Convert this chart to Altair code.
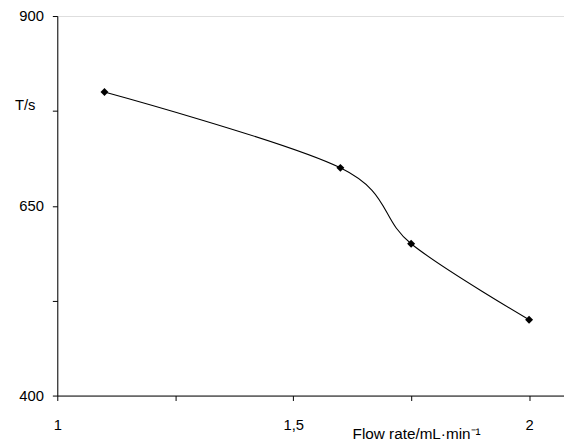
import altair as alt
import pandas as pd

flow = [1.1, 1.6, 1.75, 2.0]
t_values = [800, 700, 600, 500]
x_ticks = [1, 1.25, 1.5, 1.75, 2]
y_ticks = [400, 525, 650, 775, 900]

df = pd.DataFrame({"flow": flow, "t": t_values})

FONT = "Liberation Sans"

x_enc = alt.X(
    "flow:Q",
    scale=alt.Scale(domain=[1, 2.074], nice=False, zero=False),
    axis=alt.Axis(
        values=x_ticks,
        labelExpr="datum.value == 1.5 ? '1,5' : (datum.value == 1 ? '1' : (datum.value == 2 ? '2' : ''))",
        grid=False,
        tickSize=5,
        labelPadding=17,
        domainColor="black",
        tickColor="black",
        labelColor="black",
        labelFont=FONT,
        labelFontSize=15,
        title="Flow rate/mL·min⁻¹",
        titleFont=FONT,
        titleFontSize=15.5,
        titleFontWeight="normal",
        titleColor="black",
        titleX=364,
        titleY=39,
        titleAlign="center",
        titleBaseline="middle",
        labelFlush=False,
        labelOverlap=False,
    ),
)

y_enc = alt.Y(
    "t:Q",
    scale=alt.Scale(domain=[400, 900], nice=False, zero=False),
    axis=alt.Axis(
        values=y_ticks,
        labelExpr="datum.value == 525 || datum.value == 775 ? '' : datum.label",
        grid=False,
        tickSize=5,
        labelPadding=9,
        domainColor="black",
        tickColor="black",
        labelColor="black",
        labelFont=FONT,
        labelFontSize=15,
        title="T/s",
        titleFont=FONT,
        titleFontSize=15,
        titleFontWeight="normal",
        titleColor="black",
        titleAngle=0,
        titleX=-33,
        titleY=90,
        titleAlign="center",
        titleBaseline="middle",
        labelFlush=False,
        labelOverlap=False,
    ),
)

line = alt.Chart(df).mark_line(
    interpolate="cardinal", color="black", strokeWidth=1.1
).encode(x=x_enc, y=y_enc)

pts = alt.Chart(df).mark_point(
    shape="diamond", filled=True, color="black", size=65, opacity=1
).encode(x="flow:Q", y="t:Q")

chart = (
    alt.layer(line, pts)
    .properties(
        width=514,
        height=385,
        autosize=alt.AutoSizeParams(type="none"),
        padding={"left": 50, "top": 5, "right": 0, "bottom": 48},
    )
    .configure_view(stroke=None)
    .configure(background="white")
)

chart.save("out.html", embed_options={"renderer": "svg", "actions": False})
